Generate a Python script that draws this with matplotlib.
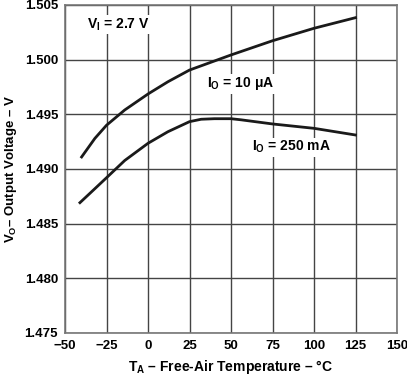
import numpy as np
import matplotlib
matplotlib.use("Agg")
from matplotlib import pyplot as plt

plt.rcParams['font.family'] = ['Liberation Sans', 'DejaVu Sans']
plt.rcParams['font.weight'] = 'bold'
plt.rcParams['axes.labelweight'] = 'bold'
plt.rcParams['mathtext.fontset'] = 'custom'
plt.rcParams['mathtext.rm'] = 'Liberation Sans:bold'
plt.rcParams['mathtext.it'] = 'Liberation Sans:bold'
plt.rcParams['mathtext.bf'] = 'Liberation Sans:bold'
plt.rcParams['mathtext.default'] = 'rm'

# Datos
temp_10 = [-40, -32, -25, -14, 0, 12, 25, 50, 75, 100, 125]
v_10uA = [1.4911, 1.4928, 1.4940, 1.4954, 1.49686, 1.49798, 1.49905,
          1.50043, 1.50173, 1.50287, 1.50384]
temp_250 = [-41, -32, -25, -14, 0, 12, 25, 32, 40, 50, 56, 75, 100, 125]
v_250mA = [1.48692, 1.48820, 1.48920, 1.49078, 1.49235, 1.49341, 1.49433,
           1.49455, 1.49460, 1.49460, 1.49450, 1.49412, 1.49372, 1.49311]

x_ticks = [-50, -25, 0, 25, 50, 75, 100, 125, 150]
x_labels = ['\u221250', '\u221225', '0', '25', '50', '75', '100', '125', '150']
y_ticks = [1.475, 1.480, 1.485, 1.490, 1.495, 1.500, 1.505]

fig = plt.figure(figsize=(4.07, 3.77), dpi=100)
ax = fig.add_axes([65 / 407, 1 - 333 / 377, 332 / 407, 328 / 377])

ax.plot(temp_10, v_10uA, color='#1a1a1a', lw=2, solid_joinstyle='round')
ax.plot(temp_250, v_250mA, color='#1a1a1a', lw=2, solid_joinstyle='round')

ax.set_xlim(-50, 150)
ax.set_ylim(1.475, 1.505)
ax.set_xticks(x_ticks)
ax.set_xticklabels(x_labels)
ax.set_yticks(y_ticks)
ax.set_yticklabels(['%.3f' % v for v in y_ticks])
ax.tick_params(length=0, labelsize=9.5, pad=5)
ax.grid(True, color='#444444', lw=1)
for s in ax.spines.values():
    s.set_color('#777777')
    s.set_linewidth(1.2)

caja = dict(facecolor='white', edgecolor='none', pad=1)
ax.text(-37, 1.5032, r'V$_\mathregular{I}$ = 2.7 V', fontsize=10, va='center', bbox=caja)
ax.text(35.4, 1.4978, r'I$_\mathregular{O}$ = 10 $\mathregular{\mu}$A', fontsize=10, va='center', bbox=caja)
ax.text(62.5, 1.4920, r'I$_\mathregular{O}$ = 250 mA', fontsize=10, va='center', bbox=caja)

ax.set_xlabel('T$_\\mathregular{A}$ \u2013 Free-Air Temperature \u2013 \u00b0C', fontsize=10, labelpad=4)
ax.set_ylabel('V$_\\mathregular{O}$\u2013 Output Voltage \u2013 V', fontsize=9.5, labelpad=4)

fig.savefig('out.png', dpi=100)
